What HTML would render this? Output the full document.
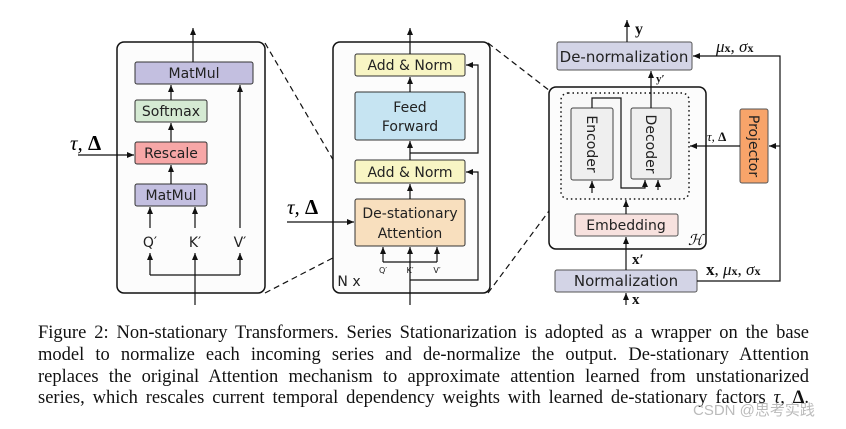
<!DOCTYPE html>
<html><head><meta charset="utf-8"><style>
html,body{margin:0;padding:0;background:#fff;}
body{width:846px;height:429px;overflow:hidden;position:relative;}
svg{position:absolute;left:0;top:0;}
.cap{position:absolute;left:38px;width:771px;font-family:"Liberation Serif",serif;font-size:18.5px;line-height:21.8px;top:323px;text-align:justify;color:#111;}
.cap div{text-align-last:justify;white-space:nowrap;}
.wm{position:absolute;left:693px;top:399px;font-family:"Liberation Sans","Noto Sans CJK SC",sans-serif;font-size:15px;color:#bbb;}
</style></head><body>
<svg width="846" height="429" viewBox="0 0 846 429" font-family="'DejaVu Sans',sans-serif">
<defs><marker id="a" markerWidth="8" markerHeight="8" refX="7" refY="4" orient="auto" markerUnits="userSpaceOnUse"><path d="M0,1 L7,4 L0,7 z" fill="#111"/></marker></defs>
<g stroke="#111" stroke-width="1.2" fill="none">
<line x1="265" y1="43" x2="356" y2="199" stroke-dasharray="6,4"/>
<line x1="265" y1="293" x2="356" y2="246" stroke-dasharray="6,4"/>
<line x1="488" y1="43" x2="572" y2="108" stroke-dasharray="6,4"/>
<line x1="488" y1="293" x2="572" y2="180" stroke-dasharray="6,4"/>
</g>
<rect x="117" y="42" width="148" height="251" rx="7" fill="#fcfcfc" stroke="#111" stroke-width="1.5"/>
<g stroke="#333" stroke-width="1">
<rect x="135" y="62" width="118" height="22" rx="2" fill="#c3bfe0"/>
<rect x="135" y="100" width="72" height="22" rx="2" fill="#d5ead3"/>
<rect x="135" y="142" width="72" height="22" rx="2" fill="#f7a7a7"/>
<rect x="135" y="184" width="72" height="22" rx="2" fill="#c3bfe0"/>
</g>
<g font-size="14" fill="#222" text-anchor="middle">
<text x="194" y="78">MatMul</text><text x="171" y="116">Softmax</text><text x="171" y="158">Rescale</text><text x="171" y="200">MatMul</text>
<text x="150" y="247">Q′</text><text x="195" y="247">K′</text><text x="240" y="247">V′</text>
</g>
<g stroke="#111" stroke-width="1.2" fill="none" marker-end="url(#a)">
<line x1="193" y1="62" x2="193" y2="28"/>
<line x1="171" y1="100" x2="171" y2="85"/>
<line x1="171" y1="142" x2="171" y2="123"/>
<line x1="171" y1="184" x2="171" y2="165"/>
<line x1="150" y1="228" x2="150" y2="207"/>
<line x1="195" y1="228" x2="195" y2="207"/>
<line x1="240" y1="228" x2="240" y2="85"/>
<line x1="195" y1="305" x2="195" y2="253"/>
<path d="M150,275 L150,253"/><path d="M240,275 L240,253"/>
<line x1="78" y1="155" x2="134" y2="155"/>
</g>
<path d="M150,275 H240" stroke="#111" stroke-width="1.2"/>
<text x="70" y="150" font-family="'Liberation Serif',serif" font-size="21" font-style="italic">τ, <tspan font-style="normal" font-weight="bold">Δ</tspan></text>
<rect x="333" y="42" width="157" height="251" rx="7" fill="#fcfcfc" stroke="#111" stroke-width="1.5"/>
<g stroke="#333" stroke-width="1">
<rect x="355" y="54" width="110" height="22" rx="2" fill="#f8f5c4"/>
<rect x="355" y="92" width="110" height="48" rx="2" fill="#c6e4f2"/>
<rect x="355" y="160" width="110" height="23" rx="2" fill="#f8f5c4"/>
<rect x="355" y="199" width="110" height="47" rx="2" fill="#f8dfbe"/>
</g>
<g font-size="14" fill="#222" text-anchor="middle">
<text x="410" y="70">Add &amp; Norm</text><text x="410" y="112">Feed</text><text x="410" y="131">Forward</text>
<text x="410" y="177">Add &amp; Norm</text><text x="410" y="218">De-stationary</text><text x="410" y="238">Attention</text>
<text x="349" y="286">N x</text>
</g>
<g font-size="8" fill="#222" text-anchor="middle"><text x="383" y="273">Q′</text><text x="410" y="273">K′</text><text x="437" y="273">V′</text></g>
<g stroke="#111" stroke-width="1.2" fill="none" marker-end="url(#a)">
<line x1="410" y1="54" x2="410" y2="28"/>
<line x1="410" y1="92" x2="410" y2="77"/>
<line x1="410" y1="160" x2="410" y2="141"/>
<line x1="410" y1="199" x2="410" y2="184"/>
<line x1="410" y1="305" x2="410" y2="247"/>
<line x1="383" y1="262" x2="383" y2="247"/>
<line x1="437" y1="262" x2="437" y2="247"/>
<path d="M410,153 H478 V65 H466"/>
<path d="M410,280 H478 V172 H466"/>
<line x1="287" y1="222" x2="354" y2="222"/>
</g>
<path d="M383,262 H437" stroke="#111" stroke-width="1.2"/>
<text x="287" y="214" font-family="'Liberation Serif',serif" font-size="21" font-style="italic">τ, <tspan font-style="normal" font-weight="bold">Δ</tspan></text>
<rect x="557" y="42" width="135" height="28" rx="2" fill="#d3d4e6" stroke="#555"/>
<text x="624" y="62" font-size="15" text-anchor="middle" fill="#222">De-normalization</text>
<rect x="549" y="87" width="157" height="162" rx="7" fill="#fcfcfc" stroke="#111" stroke-width="1.5"/>
<rect x="561" y="93" width="128" height="106" rx="7" fill="#f8f8f8" stroke="#111" stroke-width="1.5" stroke-dasharray="1.5,3"/>
<rect x="571" y="108" width="42" height="72" rx="2" fill="#efefef" stroke="#444"/>
<rect x="631" y="108" width="40" height="71" rx="2" fill="#efefef" stroke="#444"/>
<text font-size="14" fill="#222" text-anchor="middle" transform="translate(587,144) rotate(90)">Encoder</text>
<text font-size="14" fill="#222" text-anchor="middle" transform="translate(646,144) rotate(90)">Decoder</text>
<rect x="575" y="214" width="103" height="22" rx="2" fill="#f7e1de" stroke="#555"/>
<text x="626" y="230" font-size="14" text-anchor="middle" fill="#222">Embedding</text>
<text x="688" y="245" font-family="'Liberation Serif',serif" font-size="15" font-style="italic">ℋ</text>
<rect x="555" y="270" width="142" height="22" rx="2" fill="#d3d4e6" stroke="#555"/>
<text x="626" y="286" font-size="15" text-anchor="middle" fill="#222">Normalization</text>
<rect x="740" y="109" width="28" height="74" rx="2" fill="#f8a46a" stroke="#555"/>
<text font-size="14" fill="#222" text-anchor="middle" transform="translate(749,146) rotate(90)">Projector</text>
<g stroke="#111" stroke-width="1.2" fill="none" marker-end="url(#a)">
<line x1="627" y1="42" x2="627" y2="20"/>
<line x1="651" y1="108" x2="651" y2="71"/>
<line x1="592" y1="193" x2="592" y2="181"/>
<path d="M592,108 V98 H621 V188 H645 V180"/>
<line x1="658" y1="190" x2="658" y2="180"/>
<line x1="626" y1="214" x2="626" y2="200"/>
<line x1="626" y1="270" x2="626" y2="237"/>
<line x1="626" y1="305" x2="626" y2="293"/>
<path d="M697,281 H780 V56 H693"/>
<line x1="780" y1="146" x2="769" y2="146"/>
<line x1="740" y1="146" x2="690" y2="146"/>
</g>
<g font-family="'Liberation Serif',serif" fill="#111">
<text x="635" y="34" font-size="16" font-weight="bold">y</text>
<text x="656" y="82" font-size="11" font-weight="bold">y′</text>
<text x="632" y="264" font-size="15" font-weight="bold">x′</text>
<text x="632" y="304" font-size="15" font-weight="bold">x</text>
<text x="716" y="52" font-size="17" font-style="italic">μ<tspan font-size="12" font-style="normal" font-weight="bold">x</tspan>, σ<tspan font-size="12" font-style="normal" font-weight="bold">x</tspan></text>
<text x="706" y="275" font-size="17"><tspan font-weight="bold">x</tspan>, <tspan font-style="italic">μ</tspan><tspan font-size="12" font-weight="bold">x</tspan>, <tspan font-style="italic">σ</tspan><tspan font-size="12" font-weight="bold">x</tspan></text>
<text x="707" y="141" font-size="13" font-style="italic">τ, <tspan font-style="normal" font-weight="bold">Δ</tspan></text>
</g>
</svg>
<div class="cap">
<div>Figure 2: Non-stationary Transformers. Series Stationarization is adopted as a wrapper on the base</div>
<div>model to normalize each incoming series and de-normalize the output. De-stationary Attention</div>
<div>replaces the original Attention mechanism to approximate attention learned from unstationarized</div>
<div>series, which rescales current temporal dependency weights with learned de-stationary factors <i>τ</i>, <b>Δ</b>.</div>
</div>
<div class="wm">CSDN @思考实践</div>
</body></html>
